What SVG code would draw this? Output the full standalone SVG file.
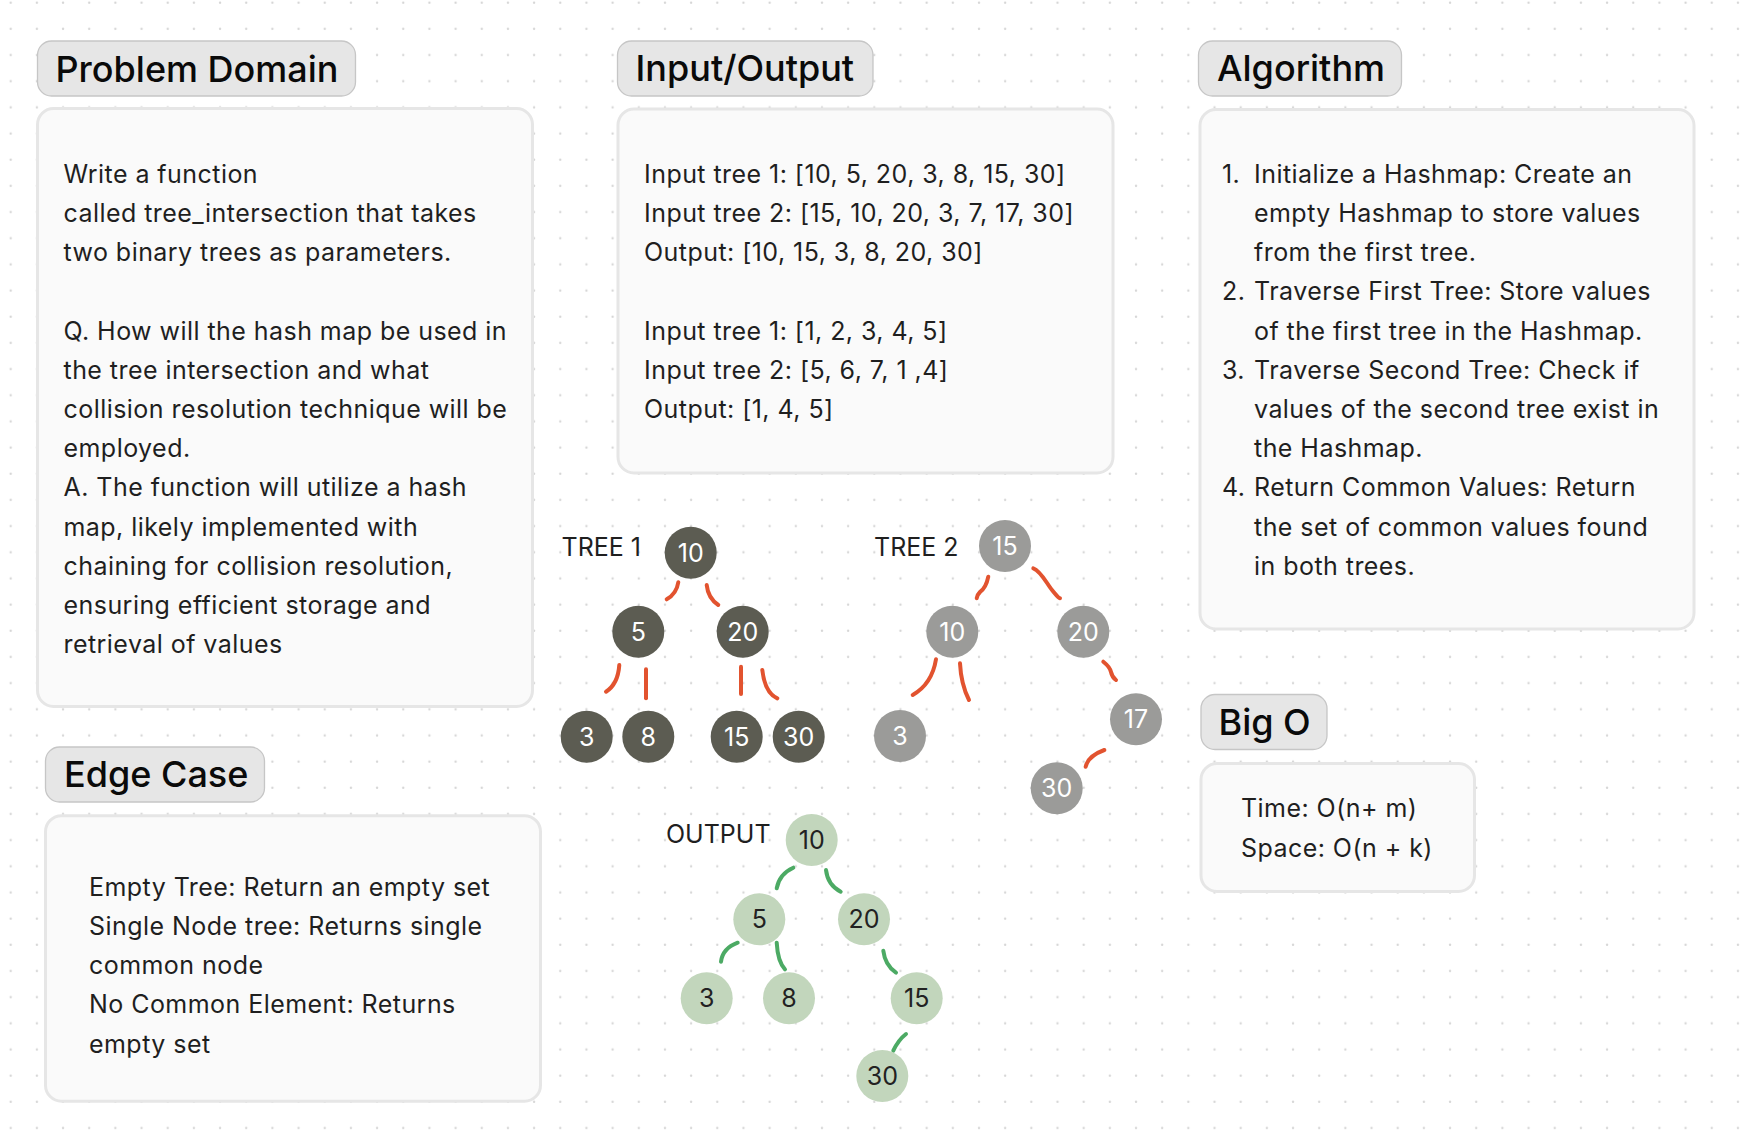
<svg xmlns="http://www.w3.org/2000/svg" width="1740" height="1140" viewBox="0 0 1740 1140">
<defs>
<pattern id="dots" patternUnits="userSpaceOnUse" x="0" y="0" width="26.17" height="26.17">
<circle cx="10.7" cy="2.7" r="1.2" fill="#d6d6d6"/>
</pattern>
<style>
text{font-family:Inter,"Liberation Sans",sans-serif;}
.hbox{fill:#e6e6e6;stroke:#c6c6c6;stroke-width:1.3;}
.hdr{font-size:36px;font-weight:500;fill:#0a0a0a;}
.body{fill:#fafafa;stroke:#e6e6e6;stroke-width:3;}
.t{font-size:25px;letter-spacing:0.45px;fill:#1f1f1f;}
.lbl{font-size:25px;fill:#1f1f1f;}
.n1{fill:#5c5c52;}
.n2{fill:#9b9b99;}
.n3{fill:#c2d6bc;}
.nt{font-size:25px;fill:#ffffff;text-anchor:middle;}
.nd{font-size:25px;fill:#222222;text-anchor:middle;}
.er{fill:none;stroke:#e2532f;stroke-width:4;stroke-linecap:round;}
.eg{fill:none;stroke:#4caa64;stroke-width:4;stroke-linecap:round;}
</style>
</defs>
<rect x="0" y="0" width="1740" height="1140" fill="#ffffff"/>
<rect x="0" y="0" width="1740" height="1140" fill="url(#dots)"/>

<g id="problem-domain">
<rect class="hbox" x="37.5" y="41" width="318" height="55" rx="14"/>
<text class="hdr" x="55.5" y="81.7">Problem Domain</text>
<rect class="body" x="37.5" y="108.5" width="495" height="598" rx="16"/>
<text class="t" x="63.5" y="182.7">Write a function</text>
<text class="t" x="63.5" y="221.9">called tree_intersection that takes</text>
<text class="t" x="63.5" y="261.1">two binary trees as parameters.</text>
<text class="t" x="63.5" y="339.5">Q. How will the hash map be used in</text>
<text class="t" x="63.5" y="378.7">the tree intersection and what</text>
<text class="t" x="63.5" y="417.9">collision resolution technique will be</text>
<text class="t" x="63.5" y="457.1">employed.</text>
<text class="t" x="63.5" y="496.3">A. The function will utilize a hash</text>
<text class="t" x="63.5" y="535.5">map, likely implemented with</text>
<text class="t" x="63.5" y="574.7">chaining for collision resolution,</text>
<text class="t" x="63.5" y="613.9">ensuring efficient storage and</text>
<text class="t" x="63.5" y="653.1">retrieval of values</text>
</g>

<g id="edge-case">
<rect class="hbox" x="45.5" y="747" width="219" height="55" rx="14"/>
<text class="hdr" x="64" y="786.7">Edge Case</text>
<rect class="body" x="45.5" y="815.7" width="495" height="285.5" rx="16"/>
<text class="t" x="89" y="895.7">Empty Tree: Return an empty set</text>
<text class="t" x="89" y="934.9">Single Node tree: Returns single</text>
<text class="t" x="89" y="974.1">common node</text>
<text class="t" x="89" y="1013.3">No Common Element: Returns</text>
<text class="t" x="89" y="1052.5">empty set</text>
</g>

<g id="input-output">
<rect class="hbox" x="617.5" y="41" width="255.5" height="55" rx="14"/>
<text class="hdr" x="635.5" y="81.3">Input/Output</text>
<rect class="body" x="618" y="109" width="495" height="364" rx="16"/>
<text class="t" x="644" y="182.7">Input tree 1: [10, 5, 20, 3, 8, 15, 30]</text>
<text class="t" x="644" y="221.9">Input tree 2: [15, 10, 20, 3, 7, 17, 30]</text>
<text class="t" x="644" y="261.1">Output: [10, 15, 3, 8, 20, 30]</text>
<text class="t" x="644" y="339.5">Input tree 1: [1, 2, 3, 4, 5]</text>
<text class="t" x="644" y="378.7">Input tree 2: [5, 6, 7, 1 ,4]</text>
<text class="t" x="644" y="417.9">Output: [1, 4, 5]</text>
</g>

<g id="algorithm">
<rect class="hbox" x="1198.5" y="41" width="203" height="55" rx="14"/>
<text class="hdr" x="1217" y="81.3">Algorithm</text>
<rect class="body" x="1200" y="109.5" width="494" height="519.5" rx="16"/>
<text class="t" x="1222" y="182.7">1.</text>
<text class="t" x="1254" y="182.7">Initialize a Hashmap: Create an</text>
<text class="t" x="1254" y="221.9">empty Hashmap to store values</text>
<text class="t" x="1254" y="261.1">from the first tree.</text>
<text class="t" x="1222" y="300.3">2.</text>
<text class="t" x="1254" y="300.3">Traverse First Tree: Store values</text>
<text class="t" x="1254" y="339.5">of the first tree in the Hashmap.</text>
<text class="t" x="1222" y="378.7">3.</text>
<text class="t" x="1254" y="378.7">Traverse Second Tree: Check if</text>
<text class="t" x="1254" y="417.9">values of the second tree exist in</text>
<text class="t" x="1254" y="457.1">the Hashmap.</text>
<text class="t" x="1222" y="496.3">4.</text>
<text class="t" x="1254" y="496.3">Return Common Values: Return</text>
<text class="t" x="1254" y="535.5">the set of common values found</text>
<text class="t" x="1254" y="574.7">in both trees.</text>
</g>

<g id="big-o">
<rect class="hbox" x="1201" y="694.5" width="126" height="55" rx="14"/>
<text class="hdr" x="1218.5" y="735">Big O</text>
<rect class="body" x="1201" y="763.5" width="273.5" height="128" rx="16"/>
<text class="t" x="1241" y="817.3">Time: O(n+ m)</text>
<text class="t" x="1241" y="856.5">Space: O(n + k)</text>
</g>

<g id="connectors">
<path class="er" d="M678.3,582.3 Q676.5,594 666.7,599.3"/>
<path class="er" d="M706.7,585 Q708,598 718.3,605"/>
<path class="er" d="M619.3,665 Q618,684 606,691.7"/>
<path class="er" d="M646,669.3 L646,698.3"/>
<path class="er" d="M741,666.7 L741,694"/>
<path class="er" d="M762.3,670 Q765,693 777.3,698.3"/>
<path class="er" d="M988.3,576.7 Q986,588 980,592 Q977,595 976.7,598.3"/>
<path class="er" d="M1033.3,568.3 C1041,571 1047,584 1052,590 S1058,598 1060,598.3"/>
<path class="er" d="M936,659.3 Q932,684 912.7,695"/>
<path class="er" d="M960,663.3 Q961,684 969,700"/>
<path class="er" d="M1103.3,661.7 Q1110,667 1111,672 Q1112,677 1116,680"/>
<path class="er" d="M1104.3,750 Q1088,756 1085.7,766.7"/>
<path class="eg" d="M793.3,867.7 Q779.3,874 776.7,888.3"/>
<path class="eg" d="M826,870 Q827.7,885 840.7,891.7"/>
<path class="eg" d="M737.7,942.7 Q722.7,948.3 721,961.7"/>
<path class="eg" d="M776.7,942.7 Q777.7,961.7 785,969.3"/>
<path class="eg" d="M883.3,950.7 Q885,965 896,972.7"/>
<path class="eg" d="M906,1034 Q898.3,1040 893.3,1050.7"/>
</g>

<g id="tree1">
<text class="lbl" x="561.5" y="555.7">TREE 1</text>
<g id="t1-10"><circle class="n1" cx="690.7" cy="552.7" r="26"/><text class="nt" x="690.7" y="561.8">10</text></g>
<g id="t1-5"><circle class="n1" cx="638.3" cy="631.7" r="26"/><text class="nt" x="638.3" y="640.8">5</text></g>
<g id="t1-20"><circle class="n1" cx="742.7" cy="631.7" r="26"/><text class="nt" x="742.7" y="640.8">20</text></g>
<g id="t1-3"><circle class="n1" cx="586.7" cy="736.7" r="26"/><text class="nt" x="586.7" y="745.8">3</text></g>
<g id="t1-8"><circle class="n1" cx="648.3" cy="736.7" r="26"/><text class="nt" x="648.3" y="745.8">8</text></g>
<g id="t1-15"><circle class="n1" cx="736.7" cy="736.7" r="26"/><text class="nt" x="736.7" y="745.8">15</text></g>
<g id="t1-30"><circle class="n1" cx="798.7" cy="736.7" r="26"/><text class="nt" x="798.7" y="745.8">30</text></g>
</g>

<g id="tree2">
<text class="lbl" x="874" y="555.7">TREE 2</text>
<g id="t2-15"><circle class="n2" cx="1005" cy="546" r="26"/><text class="nt" x="1005" y="555.1">15</text></g>
<g id="t2-10"><circle class="n2" cx="952.3" cy="631.7" r="26"/><text class="nt" x="952.3" y="640.8">10</text></g>
<g id="t2-20"><circle class="n2" cx="1083.3" cy="631.7" r="26"/><text class="nt" x="1083.3" y="640.8">20</text></g>
<g id="t2-3"><circle class="n2" cx="900" cy="736" r="26"/><text class="nt" x="900" y="745.1">3</text></g>
<g id="t2-17"><circle class="n2" cx="1136" cy="719.3" r="26"/><text class="nt" x="1136" y="728.4">17</text></g>
<g id="t2-30"><circle class="n2" cx="1056.7" cy="788.3" r="26"/><text class="nt" x="1056.7" y="797.4">30</text></g>
</g>

<g id="output-tree">
<text class="lbl" x="666" y="843.3">OUTPUT</text>
<g id="o-10"><circle class="n3" cx="811.7" cy="840" r="26"/><text class="nd" x="811.7" y="849.1">10</text></g>
<g id="o-5"><circle class="n3" cx="759.3" cy="919.3" r="26"/><text class="nd" x="759.3" y="928.4">5</text></g>
<g id="o-20"><circle class="n3" cx="864" cy="919.3" r="26"/><text class="nd" x="864" y="928.4">20</text></g>
<g id="o-3"><circle class="n3" cx="706.7" cy="998.3" r="26"/><text class="nd" x="706.7" y="1007.4">3</text></g>
<g id="o-8"><circle class="n3" cx="789" cy="998.3" r="26"/><text class="nd" x="789" y="1007.4">8</text></g>
<g id="o-15"><circle class="n3" cx="916.7" cy="998.3" r="26"/><text class="nd" x="916.7" y="1007.4">15</text></g>
<g id="o-30"><circle class="n3" cx="882.3" cy="1076" r="26"/><text class="nd" x="882.3" y="1085.1">30</text></g>
</g>
</svg>
